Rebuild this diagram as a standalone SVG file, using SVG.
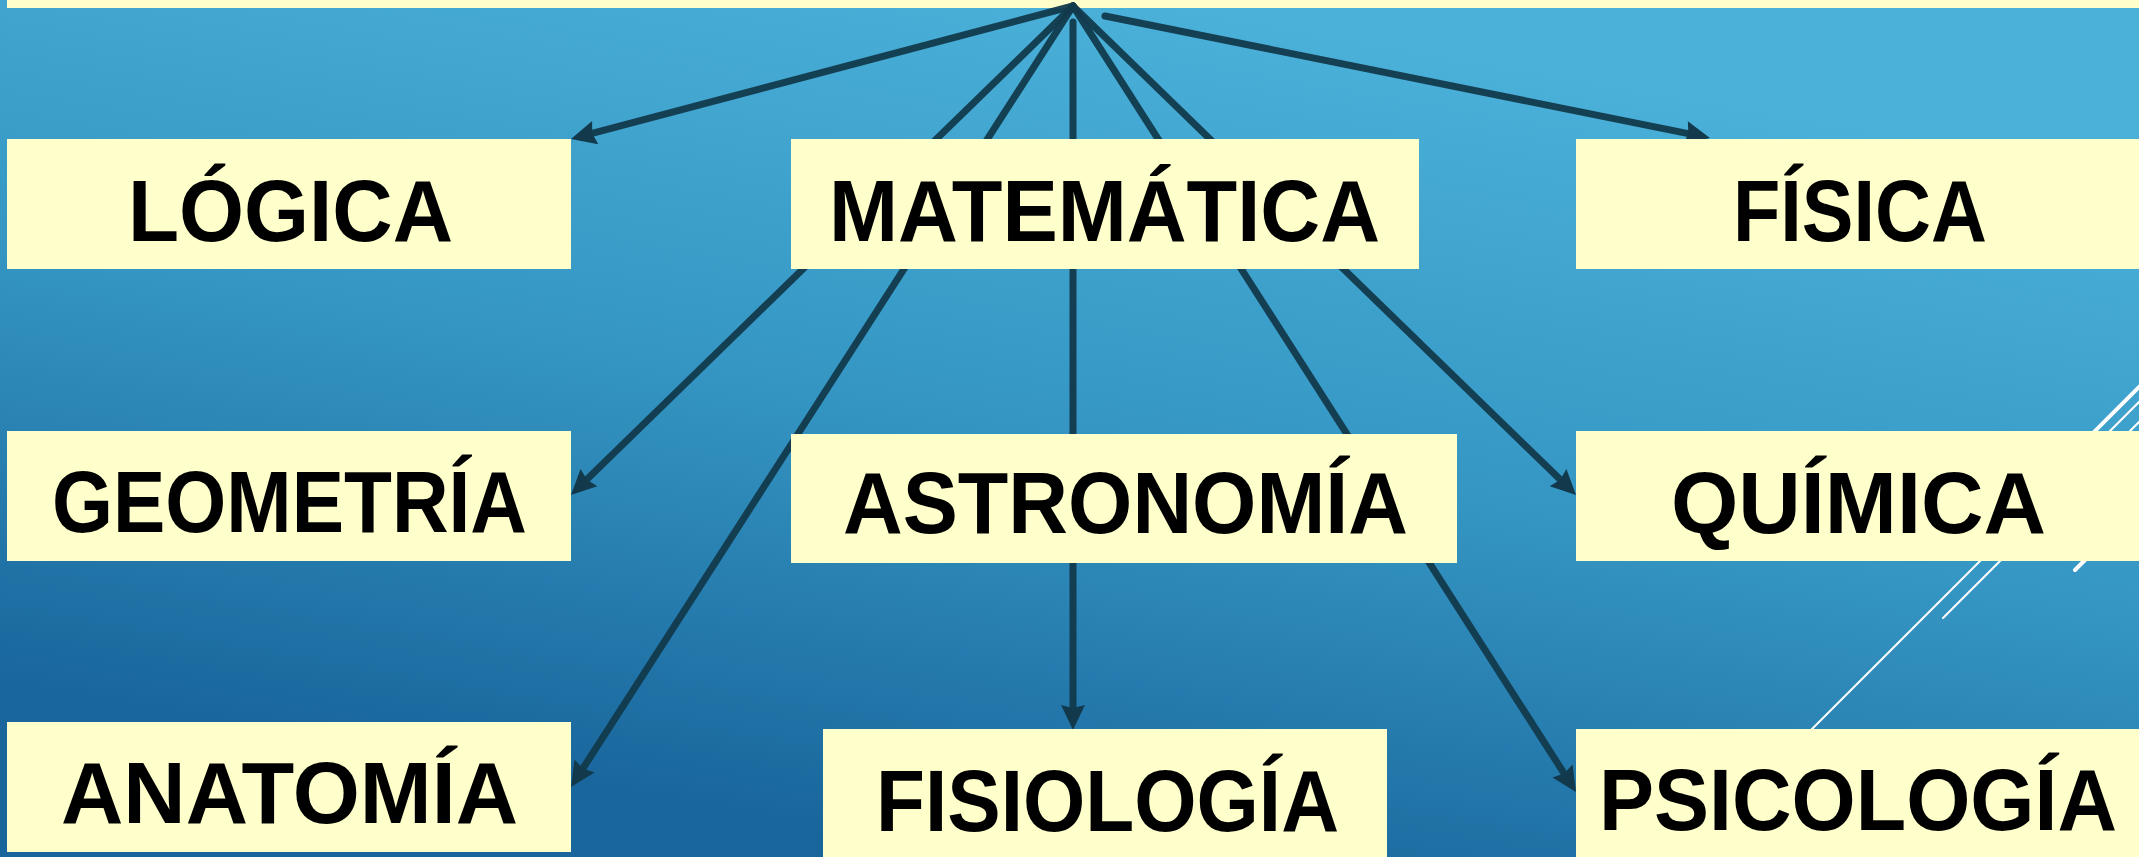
<svg xmlns="http://www.w3.org/2000/svg" width="2139" height="857" viewBox="0 0 2139 857">
<defs>
<linearGradient id="bg" gradientUnits="userSpaceOnUse" x1="1150" y1="0" x2="1000" y2="857">
<stop offset="0" stop-color="#4bb1d9"/>
<stop offset="0.5" stop-color="#3596c3"/>
<stop offset="1" stop-color="#19669c"/>
</linearGradient>
<marker id="arr" markerUnits="userSpaceOnUse" viewBox="-14 -13 28 26" refX="0" refY="0" markerWidth="28" markerHeight="26" orient="auto">
<path d="M12,0 L-13,-12 L-10,0 L-13,12 Z" fill="#123a4c"/>
</marker>
<style>
.box{fill:#ffffcc}
.lbl{font-family:"Liberation Sans",Arial,sans-serif;font-weight:bold;font-size:87px;fill:#000}
.con{stroke:#123a4c;stroke-width:7;stroke-linecap:round;fill:none;stroke-opacity:0.95}
.wl{stroke:#fff;stroke-linecap:round;fill:none}
</style>
</defs>
<rect x="0" y="0" width="2139" height="857" fill="url(#bg)"/>
<g id="decor">
<line class="wl" x1="2150" y1="376" x2="2010" y2="516" stroke-width="4"/>
<line class="wl" x1="2141" y1="400" x2="1795" y2="746" stroke-width="2"/>
<line class="wl" x1="2141" y1="420" x2="1943" y2="618" stroke-width="2"/>
<line class="wl" x1="2160" y1="432" x2="2140" y2="452" stroke-width="2"/>
<line class="wl" x1="2220" y1="425" x2="2075" y2="570" stroke-width="4"/>
</g>
<rect x="7" y="0" width="2132" height="8" class="box"/>
<g id="connectors">
<line class="con" x1="1073" y1="6" x2="582.6" y2="135.9" marker-end="url(#arr)"/>
<line class="con" x1="1073" y1="6" x2="579.6" y2="486.6" marker-end="url(#arr)"/>
<line class="con" x1="1073" y1="6" x2="577.5" y2="776.9" marker-end="url(#arr)"/>
<line class="con" x1="1073" y1="22" x2="1073" y2="718" marker-end="url(#arr)"/>
<line class="con" x1="1073" y1="6" x2="1569.5" y2="781.9" marker-end="url(#arr)"/>
<line class="con" x1="1073" y1="6" x2="1567.4" y2="486.6" marker-end="url(#arr)"/>
<line class="con" x1="1105" y1="16" x2="1698.2" y2="135.6" marker-end="url(#arr)"/>
</g>
<g id="logica"><rect class="box" x="7" y="139" width="564" height="130"/><text class="lbl" x="128" y="241" textLength="325" lengthAdjust="spacingAndGlyphs">LÓGICA</text></g>
<g id="matematica"><rect class="box" x="791" y="139" width="628" height="130"/><text class="lbl" x="829" y="241" textLength="551" lengthAdjust="spacingAndGlyphs">MATEMÁTICA</text></g>
<g id="fisica"><rect class="box" x="1576" y="139" width="563" height="130"/><text class="lbl" x="1733" y="241" textLength="254" lengthAdjust="spacingAndGlyphs">FÍSICA</text></g>
<g id="geometria"><rect class="box" x="7" y="431" width="564" height="130"/><text class="lbl" x="52" y="532" textLength="475" lengthAdjust="spacingAndGlyphs">GEOMETRÍA</text></g>
<g id="astronomia"><rect class="box" x="791" y="434" width="666" height="129"/><text class="lbl" x="843" y="533" textLength="565" lengthAdjust="spacingAndGlyphs">ASTRONOMÍA</text></g>
<g id="quimica"><rect class="box" x="1576" y="431" width="563" height="130"/><text class="lbl" x="1671" y="533" textLength="375" lengthAdjust="spacingAndGlyphs">QUÍMICA</text></g>
<g id="anatomia"><rect class="box" x="7" y="722" width="564" height="130"/><text class="lbl" x="61" y="823" textLength="457" lengthAdjust="spacingAndGlyphs">ANATOMÍA</text></g>
<g id="fisiologia"><rect class="box" x="823" y="729" width="564" height="130"/><text class="lbl" x="876" y="831" textLength="463" lengthAdjust="spacingAndGlyphs">FISIOLOGÍA</text></g>
<g id="psicologia"><rect class="box" x="1576" y="729" width="563" height="130"/><text class="lbl" x="1599" y="830" textLength="518" lengthAdjust="spacingAndGlyphs">PSICOLOGÍA</text></g>
</svg>
